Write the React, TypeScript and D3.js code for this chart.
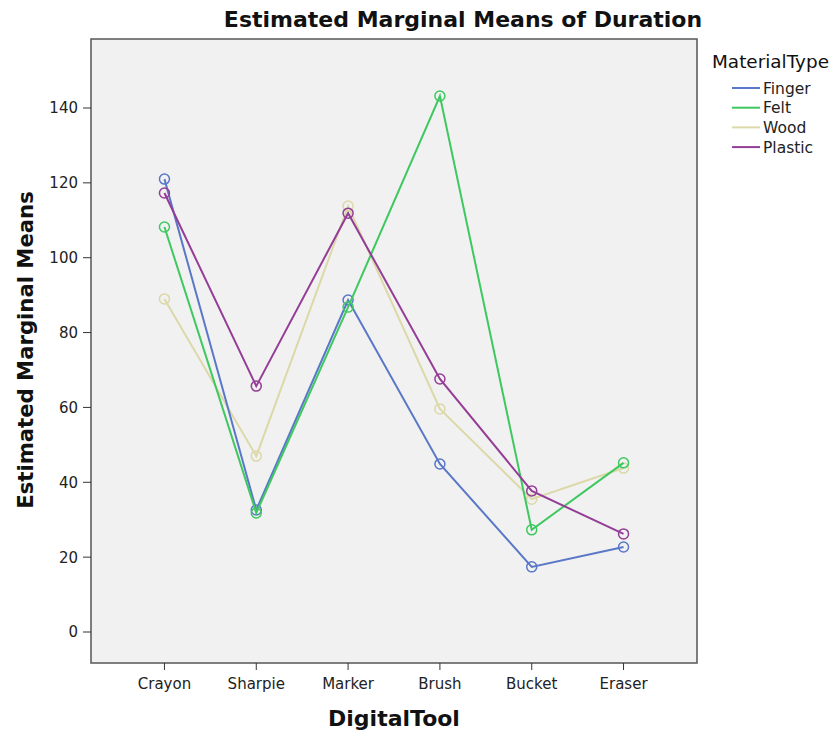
import React from "react";
import * as d3 from "d3";

const tools = ["Crayon", "Sharpie", "Marker", "Brush", "Bucket", "Eraser"];
const seriesNames = ["Finger", "Felt", "Wood", "Plastic"];
const finger = [121.0, 32.6, 88.7, 44.9, 17.4, 22.7];
const felt = [108.2, 31.8, 86.8, 143.2, 27.3, 45.2];
const wood = [89.0, 47.0, 113.8, 59.6, 35.5, 43.8];
const plastic = [117.3, 65.7, 111.9, 67.6, 37.7, 26.2];
const yTicks = [0, 20, 40, 60, 80, 100, 120, 140];
const colors = ["#5a78c8", "#3ec860", "#dcd8a8", "#943d96"];

const W = 837, H = 733;
const frame = { left: 91, top: 39, right: 697, bottom: 663 };
const FONT = "'DejaVu Sans', sans-serif";

export default function App() {
  const x = d3.scalePoint<string>().domain(tools).range([frame.left, frame.right]).padding(0.8);
  const y = d3.scaleLinear().domain([0, 140]).range([632, 108]);
  const data = [finger, felt, wood, plastic];
  const line = d3.line<number>().x((_, i) => x(tools[i])!).y((v) => y(v));
  const order = [2, 0, 1, 3];
  return (
    <svg width={W} height={H} style={{ position: "absolute", left: 0, top: 0, background: "#fff" }}>
      <text x={463} y={27} textAnchor="middle" fontFamily={FONT} fontWeight="bold" fontSize={22} fill="#111">
        Estimated Marginal Means of Duration
      </text>
      <rect x={frame.left} y={frame.top} width={frame.right - frame.left} height={frame.bottom - frame.top}
        fill="#f1f1f1" stroke="#555" strokeWidth={1.5} />
      {yTicks.map((t) => (
        <g key={t}>
          <line x1={83} x2={frame.left} y1={y(t)} y2={y(t)} stroke="#333" strokeWidth={1} />
          <text x={78} y={y(t)} dy="0.36em" textAnchor="end" fontFamily={FONT} fontSize={15} fill="#222">{t}</text>
        </g>
      ))}
      {tools.map((t) => (
        <g key={t}>
          <line x1={x(t)} x2={x(t)} y1={frame.bottom} y2={frame.bottom + 7} stroke="#333" strokeWidth={1} />
          <text x={x(t)} y={689} textAnchor="middle" fontFamily={FONT} fontSize={15} fill="#222">{t}</text>
        </g>
      ))}
      <text x={394} y={726} textAnchor="middle" fontFamily={FONT} fontWeight="bold" fontSize={22} fill="#111">DigitalTool</text>
      <text transform={`translate(33,350) rotate(-90)`} textAnchor="middle" fontFamily={FONT} fontWeight="bold" fontSize={21.2} fill="#111">
        Estimated Marginal Means
      </text>
      {order.map((si) => (
        <g key={si}>
          <path d={line(data[si]) || ""} fill="none" stroke={colors[si]} strokeWidth={2} />
          {data[si].map((v, i) => (
            <circle key={i} cx={x(tools[i])} cy={y(v)} r={5} fill="none" stroke={colors[si]} strokeWidth={1.5} />
          ))}
        </g>
      ))}
      <text x={712} y={68} fontFamily={FONT} fontSize={18.4} fill="#111">MaterialType</text>
      {seriesNames.map((n, i) => (
        <g key={n}>
          <line x1={732} x2={760} y1={88 + i * 19.7} y2={88 + i * 19.7} stroke={colors[i]} strokeWidth={2} />
          <text x={763} y={88 + i * 19.7} dy="0.36em" fontFamily={FONT} fontSize={15.5} fill="#222">{n}</text>
        </g>
      ))}
    </svg>
  );
}
